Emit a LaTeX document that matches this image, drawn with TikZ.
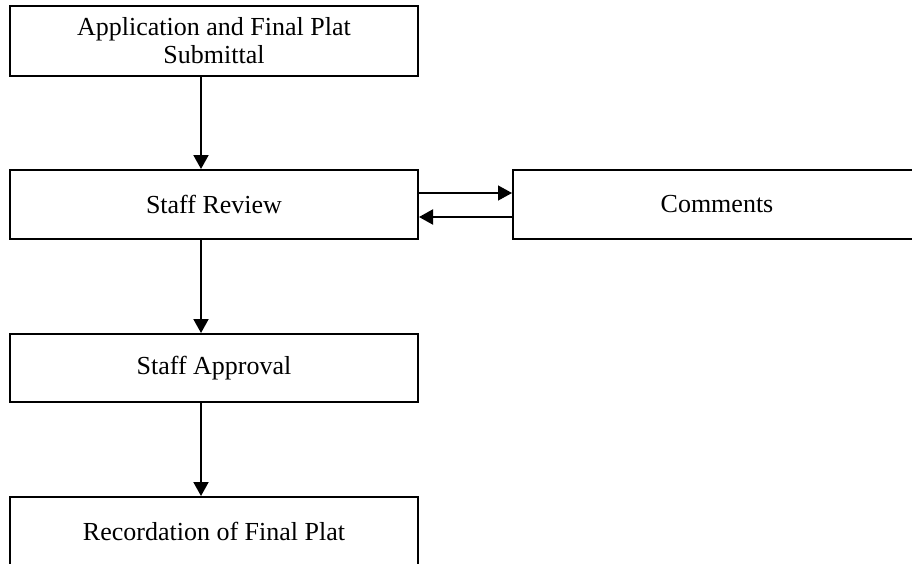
\documentclass[tikz,border=0pt]{standalone}
\usepackage{fontspec}
\setmainfont{Liberation Serif}
\usetikzlibrary{arrows.meta}
\begin{document}
\begin{tikzpicture}[x=1pt,y=-1pt,
  stage/.style={draw, line width=2pt, rectangle, minimum width=408pt, inner sep=0pt,
    align=center, font=\fontsize{26}{28}\selectfont},
  flow/.style={line width=2pt, -{Triangle[length=14pt,width=15pt]}}]
  \useasboundingbox (0,0) rectangle (912,563);
  % process stages
  \node[stage, minimum height=70pt] (app) at (214,41) {Application and Final Plat\\Submittal};
  \node[stage, minimum height=69pt] (rev) at (214,204.5) {Staff Review};
  \node[stage, minimum height=69pt] (com) at (717,204.5) {Comments};
  \node[stage, minimum height=68pt] (apr) at (214,368) {Staff Approval};
  \node[stage, minimum height=68pt] (rec) at (214,531) {Recordation of Final Plat};
  % guide lines for the connectors
  \coordinate (spine) at (201,0);
  \coordinate (out) at (0,193);
  \coordinate (back) at (0,217);
  % main sequence
  \draw[flow] (app.south -| spine) -- (rev.north -| spine);
  \draw[flow] (rev.south -| spine) -- (apr.north -| spine);
  \draw[flow] (apr.south -| spine) -- (rec.north -| spine);
  % review loop with comments
  \draw[flow, line width=1.3pt] (rev.east |- out) -- (com.west |- out);
  \draw[flow] (com.west |- back) -- (rev.east |- back);
\end{tikzpicture}
\end{document}
